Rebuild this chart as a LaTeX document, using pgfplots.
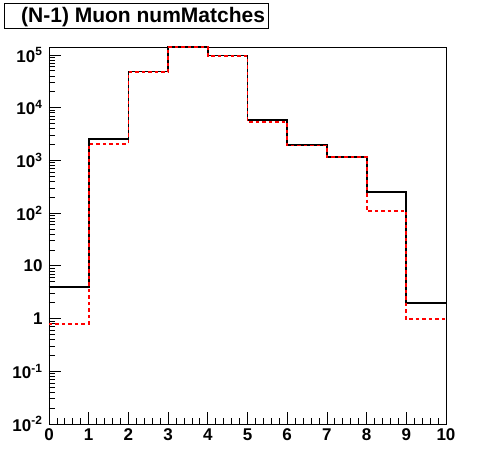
\documentclass[border=0pt]{standalone}
\usepackage{fontspec}
\setmainfont{Liberation Sans}
\usepackage{pgfplots}
\pgfplotsset{compat=1.18}
\begin{document}
\begin{tikzpicture}[x=1pt,y=1pt]
\path[use as bounding box] (0,0) rectangle (496,472);
\begin{axis}[
  at={(49pt,48pt)}, anchor=south west,
  scale only axis, width=397pt, height=377pt,
  ymode=log, xmin=0, xmax=10, ymin=0.01, ymax=1.42e5,
  clip=false,
  xtick={0,1,...,10}, minor x tick num=4,
  ytick={1e-2,1e-1,1,10,1e2,1e3,1e4,1e5},
  yticklabels={10\textsuperscript{-2},10\textsuperscript{-1},1,10,10\textsuperscript{2},10\textsuperscript{3},10\textsuperscript{4},10\textsuperscript{5}},
  minor ytick={0.02,0.03,0.04,0.05,0.06,0.07,0.08,0.09,
    0.2,0.3,0.4,0.5,0.6,0.7,0.8,0.9,
    2,3,4,5,6,7,8,9,
    20,30,40,50,60,70,80,90,
    200,300,400,500,600,700,800,900,
    2e3,3e3,4e3,5e3,6e3,7e3,8e3,9e3,
    2e4,3e4,4e4,5e4,6e4,7e4,8e4,9e4},
  tick align=inside, xtick pos=bottom, ytick pos=left,
  major tick length=12pt, minor tick length=6pt,
  tick style={black, line width=0.8pt},
  axis line style={line width=0.8pt},
  ticklabel style={font=\fontsize{17}{17}\selectfont\bfseries},
  /pgf/number format/assume math mode=true,
  xticklabel style={yshift=-1pt},
  yticklabel style={xshift=-3pt},
]
\addplot[const plot, black, line width=1.8pt] coordinates {
  (0,4) (1,2570) (2,48900) (3,1.44e5) (4,9.8e4) (5,5760)
  (6,1960) (7,1175) (8,255) (9,2.0) (10,2.0)};
\addplot[const plot, red, line width=1.8pt, dash pattern=on 3.5pt off 3pt] coordinates {
  (0,0.79) (1,2075) (2,47000) (3,1.43e5) (4,9.5e4) (5,5400)
  (6,1920) (7,1160) (8,111) (9,0.97) (10,0.97)};
\end{axis}
\draw[line width=0.8pt] (4,444) rectangle (268,469);
\node[anchor=base west, inner sep=0pt] at (21,449.3) {\fontsize{21}{21}\selectfont\bfseries (N-1) Muon numMatches};
\end{tikzpicture}
\end{document}
